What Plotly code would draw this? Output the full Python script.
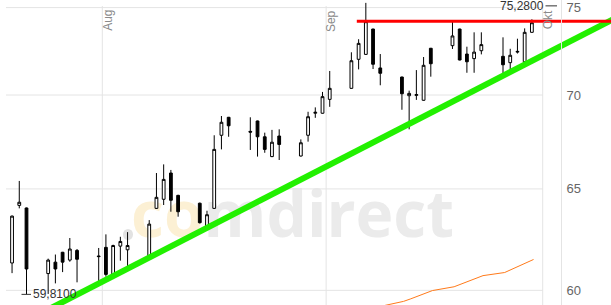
import math
import pandas as pd
import plotly.graph_objects as go

# ---------------- data ----------------
dates = ["2023-07-19", "2023-07-20", "2023-07-21", "2023-07-24", "2023-07-25", "2023-07-26",
         "2023-07-27", "2023-07-28", "2023-07-31", "2023-08-01", "2023-08-02", "2023-08-03",
         "2023-08-04", "2023-08-07", "2023-08-08", "2023-08-09", "2023-08-10", "2023-08-11",
         "2023-08-14", "2023-08-15", "2023-08-16", "2023-08-17", "2023-08-18", "2023-08-21",
         "2023-08-22", "2023-08-23", "2023-08-24", "2023-08-25", "2023-08-28", "2023-08-29",
         "2023-08-30", "2023-08-31", "2023-09-01", "2023-09-04", "2023-09-05", "2023-09-06",
         "2023-09-07", "2023-09-08", "2023-09-11", "2023-09-12", "2023-09-13", "2023-09-14",
         "2023-09-15", "2023-09-18", "2023-09-19", "2023-09-20", "2023-09-21", "2023-09-22",
         "2023-09-25", "2023-09-26", "2023-09-27", "2023-09-28", "2023-09-29"]
opens = [61.31, 64.16, 64.03, 60.80, 61.35, 61.83, 61.45, 61.92, 61.65, 62.07, 60.68, 62.13,
         61.95, 61.59, 64.01, 64.47, 65.82, 64.67, 64.27, 63.09, 64.01, 67.81, 68.78, 68.02,
         68.58, 67.73, 66.68, 67.77, 66.71, 67.81, 69.00, 69.00, 69.76, 70.37, 72.00, 72.28,
         73.74, 71.51, 71.00, 69.96, 69.98, 69.71, 72.63, 72.78, 73.74, 72.30, 72.04, 72.49,
         72.17, 71.81, 72.41, 71.86, 73.55]
highs = [63.65, 65.41, 64.05, 61.52, 61.72, 61.85, 62.53, 61.99, 62.04, 62.71, 62.20, 62.59,
         62.82, 63.42, 65.82, 66.27, 65.98, 64.70, 64.30, 63.89, 67.81, 68.85, 68.80, 68.78,
         68.60, 67.95, 68.10, 68.13, 67.59, 69.08, 69.32, 70.17, 71.34, 72.40, 73.15, 75.28,
         73.76, 72.30, 71.02, 70.24, 71.39, 72.13, 72.65, 74.17, 73.76, 72.72, 73.55, 73.55,
         73.26, 72.60, 73.18, 73.78, 74.31]
lows = [60.82, 64.01, 59.81, 59.83, 60.33, 60.87, 61.37, 60.38, 60.33, 60.65, 60.65, 61.42,
        61.05, 61.55, 63.98, 64.18, 63.84, 63.59, 63.25, 63.05, 63.98, 67.06, 67.73, 67.03,
        66.68, 66.88, 66.65, 66.50, 66.68, 67.47, 68.75, 68.98, 69.35, 70.35, 71.43, 72.25,
        71.45, 70.54, 69.19, 68.13, 69.73, 69.69, 71.02, 72.59, 71.94, 71.24, 71.24, 72.28,
        71.11, 71.39, 72.33, 71.84, 73.53]
closes = [63.62, 64.32, 61.02, 61.45, 61.02, 61.35, 61.99, 61.49, 61.62, 60.76, 62.16, 62.36,
          62.16, 63.22, 64.57, 65.49, 64.42, 63.84, 63.29, 63.69, 67.06, 68.51, 68.32, 67.98,
          67.73, 67.06, 67.44, 67.32, 67.41, 68.81, 69.05, 69.91, 70.37, 71.92, 72.91, 74.17,
          71.72, 71.21, 70.07, 70.09, 70.02, 71.66, 71.75, 73.34, 71.96, 71.86, 72.41, 72.84,
          71.69, 72.23, 72.45, 73.55, 74.11]

# orange indicator line
ind_dates = ["2023-09-08", "2023-09-11", "2023-09-12", "2023-09-13", "2023-09-14", "2023-09-15",
             "2023-09-18", "2023-09-19", "2023-09-20", "2023-09-21", "2023-09-22", "2023-09-25",
             "2023-09-26", "2023-09-27", "2023-09-28", "2023-09-29"]
ind_values = [59.26, 59.48, 59.60, 59.73, 59.86, 59.99, 60.17, 60.30, 60.44, 60.57, 60.70,
              60.85, 61.00, 61.16, 61.32, 61.48]

# drawn trend lines (anchor points)
support_dates = ["2023-07-24 12:00", "2023-10-11 00:00"]
support_values = [59.10, 74.37]
resist_dates = ["2023-09-05 06:00", "2023-10-11 00:00"]
resist_values = [74.19, 74.19]

# annotations of extremes
max_label = "75,2800"
max_value = 75.28
min_label = "59,8100"
min_value = 59.81
min_date = "2023-07-21"

# axes
y_ticks = [60, 65, 70, 75]
y_ticktext = ["60", "65", "70", "75"]
month_dates = ["2023-08-01", "2023-09-01", "2023-10-01"]
month_labels = ["Aug", "Sep", "Okt"]
x_range = ["2023-07-17 19:55", "2023-10-10 11:00"]
y_range = [59.31, 75.45]

W, H = 611, 305
FONT = "Liberation Sans, Arial, sans-serif"
GRID = "#e4e4e4"

x_candle = pd.to_datetime(dates) + pd.Timedelta(hours=12)
x_ind = pd.to_datetime(ind_dates) + pd.Timedelta(hours=17, minutes=30)

fig = go.Figure()
fig.add_trace(go.Candlestick(
    x=x_candle, open=opens, high=highs, low=lows, close=closes,
    increasing=dict(line=dict(color="black", width=1), fillcolor="white"),
    decreasing=dict(line=dict(color="black", width=1), fillcolor="black"),
    whiskerwidth=0, showlegend=False, hoverinfo="skip"))

fig.add_trace(go.Scatter(x=x_ind, y=ind_values, mode="lines",
                         line=dict(color="#ff7a1a", width=1), showlegend=False, hoverinfo="skip"))
fig.add_trace(go.Scatter(x=pd.to_datetime(support_dates), y=support_values, mode="lines",
                         line=dict(color="#22f000", width=6), showlegend=False, hoverinfo="skip"))
fig.add_trace(go.Scatter(x=pd.to_datetime(resist_dates), y=resist_values, mode="lines",
                         line=dict(color="#ff0000", width=3), showlegend=False, hoverinfo="skip"))

shapes = []
# watermark
shapes.append(dict(type="rect", xref="paper", yref="paper",
                   x0=135 / W, x1=450 / W, y0=1 - 262 / H, y1=1 - 170 / H,
                   line=dict(width=0), fillcolor="rgba(0,0,0,0)", layer="below",
                   label=dict(text="<b><span style='color:#fcf0d4'>co</span>"
                                   "<span style='color:#ebebeb'>mdirect</span></b>",
                              font=dict(family="Open Sans", size=64, color="#ebebeb"),
                              textposition="middle center")))
shapes.append(dict(type="circle", xref="paper", yref="paper",
                   x0=123 / W, x1=133 / W, y0=1 - 240 / H, y1=1 - 229 / H,
                   line=dict(width=0), fillcolor="#e2e2e2", layer="below"))
for v in y_ticks:
    shapes.append(dict(type="line", xref="paper", yref="y", x0=6 / W, x1=543 / W, y0=v, y1=v,
                       line=dict(color=GRID, width=1), layer="below"))
for d in month_dates:
    shapes.append(dict(type="line", xref="x", yref="paper", x0=d, x1=d, y0=0, y1=1 - 6 / H,
                       line=dict(color=GRID, width=1), layer="below"))

annotations = []
for d, t in zip(month_dates, month_labels):
    annotations.append(dict(x=d, y=1 - 8 / H, xref="x", yref="paper", text=t,
                            textangle=-90, xanchor="left", yanchor="top", showarrow=False,
                            xshift=-4, font=dict(family=FONT, size=12, color="#8a8a8a")))
# annotation positions on a log axis are given in log10 units
annotations.append(dict(x=557 / W, y=math.log10(max_value), xref="paper", yref="y",
                        text=max_label, showarrow=True, arrowhead=0, arrowwidth=1,
                        arrowcolor="#333", ax=-35, ay=0, yshift=-3,
                        font=dict(family=FONT, size=12, color="#333")))
annotations.append(dict(x=pd.Timestamp(min_date) + pd.Timedelta(hours=12),
                        y=math.log10(min_value), xref="x", yref="y", text=min_label,
                        showarrow=True, arrowhead=0, arrowwidth=1, arrowcolor="#333",
                        ax=33, ay=0, xshift=-5,
                        font=dict(family=FONT, size=12, color="#333")))

fig.update_layout(
    width=W, height=H, autosize=False,
    margin=dict(l=0, r=0, t=0, b=0, pad=0),
    paper_bgcolor="white", plot_bgcolor="white",
    boxgap=0.45,
    shapes=shapes, annotations=annotations,
    xaxis=dict(type="date", range=x_range, domain=[0, 1], showgrid=False, zeroline=False,
               showticklabels=False, ticks="", showline=False,
               rangeslider=dict(visible=False)),
    yaxis=dict(type="log", range=[math.log10(y_range[0]), math.log10(y_range[1])],
               tickvals=y_ticks, ticktext=y_ticktext, side="right", anchor="free",
               position=561 / W, showgrid=False, zeroline=False, showline=True,
               linecolor=GRID, linewidth=1, ticks="", ticklabelstandoff=2,
               tickfont=dict(family=FONT, size=13, color="#666")),
)

fig.write_html("out.html")
